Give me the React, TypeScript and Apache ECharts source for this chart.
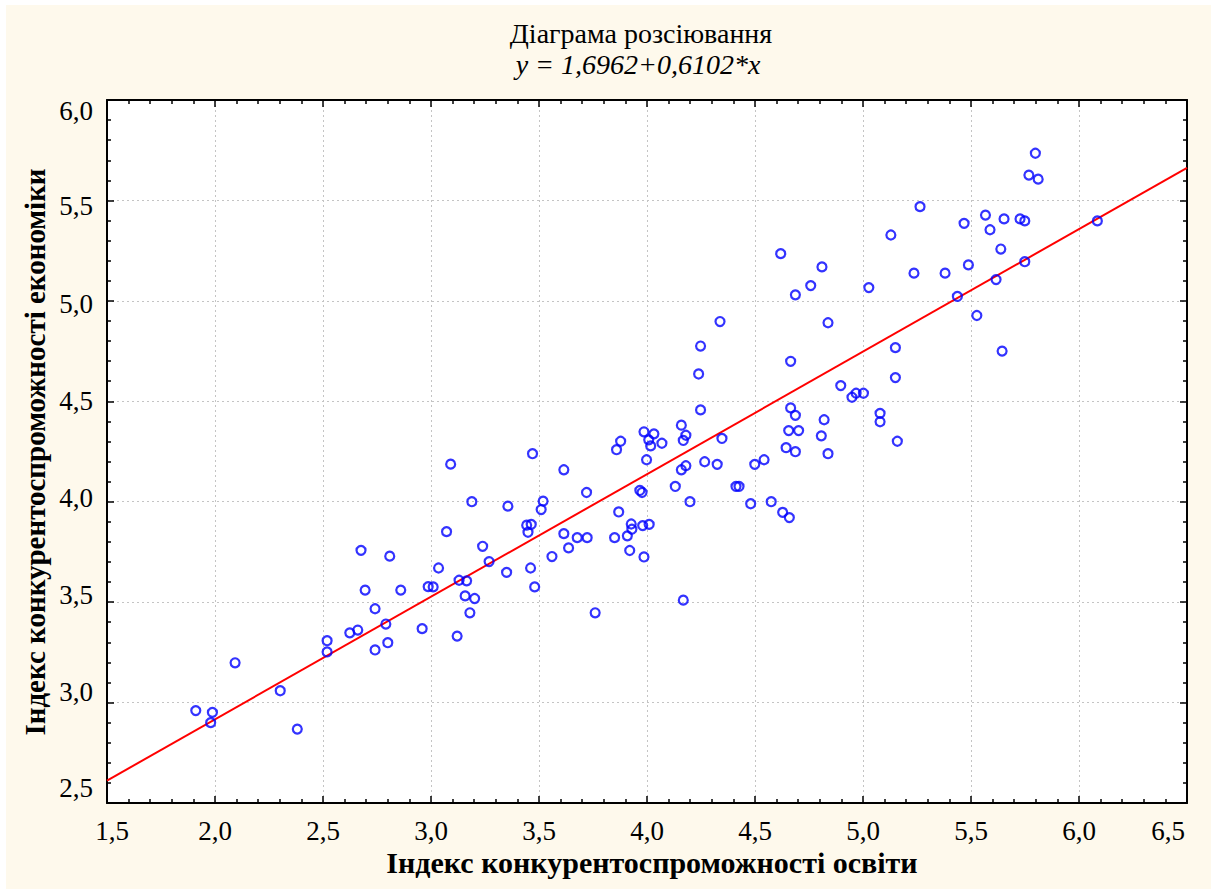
import React, { useEffect, useRef } from 'react';
import * as echarts from 'echarts';

// Індекс конкурентоспроможності освіти (x)
const eduIndex: number[] = [
  1.911, 1.988, 1.980, 2.093, 2.302, 2.381, 2.519, 2.519, 2.624, 2.661,
  2.676, 2.695, 2.741, 2.741, 2.791, 2.800, 2.809, 2.860, 2.959, 2.987,
  3.010, 3.035, 3.072, 3.091, 3.121, 3.130, 3.165, 3.158, 3.202, 3.180,
  3.189, 3.239, 3.269, 3.350, 3.356, 3.443, 3.464, 3.449, 3.461, 3.470,
  3.480, 3.510, 3.519, 3.560, 3.615, 3.615, 3.637, 3.677, 3.723, 3.720,
  3.760, 3.850, 3.859, 3.878, 3.869, 3.909, 3.927, 3.930, 3.920, 3.967,
  3.977, 3.986, 3.980, 4.010, 3.986, 3.998, 4.008, 4.017, 4.032, 4.069,
  4.131, 4.159, 4.180, 4.168, 4.168, 4.159, 4.180, 4.199, 4.248, 4.267,
  4.325, 4.347, 4.412, 4.426, 4.480, 4.499, 4.542, 4.575, 4.628, 4.659,
  4.665, 4.687, 4.656, 4.702, 4.644, 4.687, 4.820, 4.807, 4.838, 4.897,
  4.949, 4.968, 5.002, 4.619, 4.810, 4.758, 4.687, 4.838, 4.338, 4.248,
  4.239, 4.665, 5.079, 5.079, 5.159, 5.150, 5.150, 5.644, 5.527, 5.437,
  5.616, 5.749, 5.638, 5.488, 5.236, 5.380, 5.027, 5.129, 5.588, 5.468,
  5.567, 5.653, 5.727, 5.749, 5.264, 6.085, 5.798, 5.768, 5.811,
];

// Індекс конкурентоспроможності економіки (y)
const econIndex: number[] = [
  2.960, 2.951, 2.900, 3.198, 3.059, 2.868, 3.308, 3.252, 3.347, 3.361,
  3.758, 3.560, 3.467, 3.262, 3.391, 3.298, 3.729, 3.560, 3.368, 3.577,
  3.576, 3.670, 3.851, 4.187, 3.331, 3.609, 3.606, 3.531, 3.518, 3.447,
  4.000, 3.778, 3.702, 3.648, 3.978, 3.883, 3.887, 3.848, 3.670, 4.239,
  3.576, 3.961, 4.003, 3.727, 4.159, 3.841, 3.770, 3.821, 3.821, 4.046,
  3.447, 3.821, 4.259, 4.301, 3.949, 3.830, 3.889, 3.863, 3.757, 4.056,
  4.046, 4.348, 3.881, 3.887, 3.725, 4.209, 4.308, 4.278, 4.338, 4.291,
  4.076, 4.381, 4.331, 4.305, 3.510, 4.159, 4.179, 4.000, 4.457, 4.199,
  4.186, 4.315, 4.076, 4.076, 3.990, 4.186, 4.209, 4.000, 3.947, 3.921,
  4.467, 4.430, 4.354, 4.354, 4.269, 4.249, 4.408, 4.328, 4.239, 4.578,
  4.520, 4.540, 4.540, 5.235, 5.169, 5.076, 5.030, 4.891, 4.897, 4.775,
  4.636, 4.699, 4.440, 4.398, 4.301, 4.767, 4.618, 4.750, 4.927, 5.022,
  5.106, 5.195, 5.258, 5.179, 5.138, 5.138, 5.066, 5.328, 5.354, 5.386,
  5.427, 5.408, 5.408, 5.398, 5.469, 5.398, 5.735, 5.626, 5.606,
];

// Regression: y = 1,6962 + 0,6102*x
const intercept = 1.6962;
const slope = 0.6102;
const fitX: number[] = [1.5, 6.5];

const xMin = 1.5, xMax = 6.5, yMin = 2.5, yMax = 6.0, step = 0.5;

const titleText = 'Діаграма розсіювання';
const equationText = 'y = 1,6962+0,6102*x';
const xTitle = 'Індекс конкурентоспроможності освіти';
const yTitle = 'Індекс конкурентоспроможності економіки';

const FONT = '"Liberation Serif", "Times New Roman", "DejaVu Serif", serif';

// label offsets (styling only) mimicking reference placement
const yShift: Record<string, number> = {
  '60': 11, '55': 6, '50': 3, '45': 0, '40': -4, '35': -7, '30': -11, '25': -15,
};
const xShift: Record<string, number> = { '15': 5, '65': -19 };

const fmt = (v: number) => v.toFixed(1).replace('.', ',');

export default function App() {
  const ref = useRef<HTMLDivElement>(null);

  useEffect(() => {
    document.body.style.margin = '0';
    if (!ref.current) return;
    const chart = echarts.init(ref.current, undefined, { renderer: 'svg' });

    const yRich: Record<string, any> = {};
    Object.keys(yShift).forEach((k) => {
      const d = yShift[k];
      yRich['y' + k] = {
        fontFamily: FONT, fontSize: 27, color: '#000',
        padding: d >= 0 ? [2 * d, 0, 0, 0] : [0, 0, -2 * d, 0],
      };
    });
    const xRich: Record<string, any> = {
      xd: { fontFamily: FONT, fontSize: 27, color: '#000' },
    };
    Object.keys(xShift).forEach((k) => {
      const d = xShift[k];
      xRich['x' + k] = {
        fontFamily: FONT, fontSize: 27, color: '#000',
        padding: d >= 0 ? [0, 0, 0, 2 * d] : [0, -2 * d, 0, 0],
      };
    });

    const scatterData = eduIndex.map((x, i) => [x, econIndex[i]]);
    const fitData = fitX.map((x) => [x, intercept + slope * x]);

    const axisLine = { show: true, onZero: false, lineStyle: { color: '#000', width: 2 } };
    const axisTick = { show: true, inside: true, length: 7, lineStyle: { color: '#000', width: 1.5 } };
    const minorTick = { show: true, splitNumber: 5, length: 4, lineStyle: { color: '#000', width: 1.5 } };
    const splitLine = { show: true, lineStyle: { color: '#c4c4c4', type: [2, 3], width: 1 } };

    chart.setOption({
      animation: false,
      backgroundColor: '#fef9ec',
      grid: {
        left: 101, right: 24, top: 95, bottom: 86,
        show: true, backgroundColor: '#ffffff', borderWidth: 0,
      },
      xAxis: [
        {
          type: 'value', min: xMin, max: xMax, interval: step, position: 'bottom',
          axisLine, axisTick, minorTick, splitLine,
          axisLabel: {
            margin: 14, showMinLabel: true, showMaxLabel: true,
            formatter: (v: number) => {
              const k = String(Math.round(v * 10));
              return xShift[k] !== undefined ? `{x${k}|${fmt(v)}}` : `{xd|${fmt(v)}}`;
            },
            rich: xRich,
          },
        },
        {
          type: 'value', min: xMin, max: xMax, interval: step, position: 'top',
          axisLine, axisTick, minorTick, splitLine: { show: false }, axisLabel: { show: false },
        },
      ],
      yAxis: [
        {
          type: 'value', min: yMin, max: yMax, interval: step, position: 'left',
          axisLine, axisTick, minorTick, splitLine,
          axisLabel: {
            margin: 14, showMinLabel: true, showMaxLabel: true,
            formatter: (v: number) => `{y${Math.round(v * 10)}|${fmt(v)}}`,
            rich: yRich,
          },
        },
        {
          type: 'value', min: yMin, max: yMax, interval: step, position: 'right',
          axisLine, axisTick, minorTick, splitLine: { show: false }, axisLabel: { show: false },
        },
      ],
      series: [
        {
          type: 'line', data: fitData, xAxisIndex: 0, yAxisIndex: 0,
          showSymbol: false, symbol: 'none', z: 2,
          lineStyle: { color: '#ff0000', width: 2 },
        },
        {
          type: 'scatter', data: scatterData, xAxisIndex: 0, yAxisIndex: 0,
          symbol: 'circle', symbolSize: 9, z: 3,
          itemStyle: { color: 'rgba(0,0,0,0)', borderColor: '#0000ff', borderWidth: 2.2 },
        },
      ],
      graphic: [
        {
          type: 'text', x: 635, y: 28,
          style: { text: titleText, font: `28px ${FONT}`, fill: '#000', align: 'center', verticalAlign: 'middle' },
        },
        {
          type: 'text', x: 632, y: 59,
          style: { text: equationText, font: `italic 28px ${FONT}`, fill: '#000', align: 'center', verticalAlign: 'middle' },
        },
        {
          type: 'text', x: 646, y: 857,
          style: { text: xTitle, font: `bold 30px ${FONT}`, fill: '#000', align: 'center', verticalAlign: 'middle' },
        },
        {
          type: 'text', x: 29, y: 447, rotation: Math.PI / 2,
          style: { text: yTitle, font: `bold 29px ${FONT}`, fill: '#000', align: 'center', verticalAlign: 'middle' },
        },
      ],
    });

    return () => chart.dispose();
  }, []);

  return (
    <div style={{ position: 'fixed', left: 0, top: 0, width: 1211, height: 889, background: '#ffffff' }}>
      <div ref={ref} style={{ position: 'absolute', left: 6, top: 5, width: 1205, height: 884 }} />
    </div>
  );
}
